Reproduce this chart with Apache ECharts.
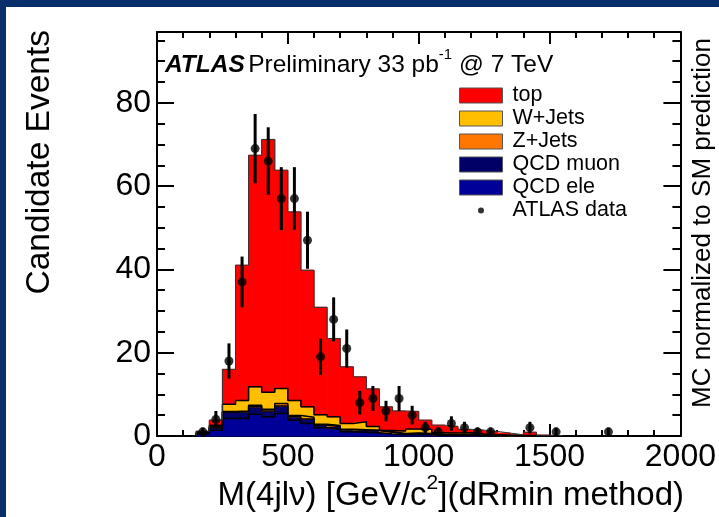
<!DOCTYPE html>
<html>
<head>
<meta charset="utf-8">
<script src="https://cdn.jsdelivr.net/npm/echarts@6/dist/echarts.min.js"></script>
<style>
  html, body { margin: 0; padding: 0; background: #ffffff; }
  #chart { width: 719px; height: 517px; }
</style>
</head>
<body>
<div id="chart"></div>
<script>
// Lower edges of the 50 GeV mass bins (GeV/c^2)
const binLow = [150, 200, 250, 300, 350, 400, 450, 500, 550, 600, 650, 700, 750, 800,
                850, 900, 950, 1000, 1050, 1100, 1150, 1200, 1250, 1300, 1350, 1400, 1450, 1500];
const binWidth = 50;

// Expected events per bin for each process (stacked bottom to top)
const qcdEle  = [0.5, 1.4, 4.2, 4.2, 5.2, 4.6, 5.4, 3.8, 3.0, 2.0, 1.6, 1.0, 0.9, 0.8,
                 0.5, 0.3, 0.4, 0.3, 0.2, 0.1, 0.1, 0.05, 0.05, 0, 0, 0, 0, 0];
const qcdMuon = [0.2, 0.6, 1.5, 1.6, 1.8, 1.4, 1.8, 0.8, 1.1, 0.6, 0.7, 0.5, 0.5, 0.5,
                 0.4, 0.2, 0.2, 0.2, 0.1, 0.1, 0.1, 0.05, 0.05, 0.05, 0, 0, 0, 0];
const zJets   = [0.05, 0.2, 0.2, 0.2, 0.4, 0.4, 0.6, 0.3, 0.4, 0.2, 0.2, 0.1, 0.1, 0.1,
                 0.1, 0.1, 0.1, 0.1, 0.1, 0.1, 0.1, 0.05, 0.02, 0.05, 0.05, 0, 0, 0];
const wJets   = [0.25, 0.4, 1.7, 2.5, 4.4, 4.1, 3.6, 3.6, 2.5, 2.3, 2.1, 1.4, 1.9, 0.9,
                 0.3, 0.6, 1.0, 1.0, 0.4, 0.4, 0.5, 0.35, 0.18, 0.1, 0.05, 0.1, 0, 0];
const topQuark = [0.15, 1.2, 8.4, 32.5, 55.6, 60.7, 52.4, 45.3, 32.8, 25.8, 18.8, 13.6, 10.8, 9.0,
                  5.7, 4.8, 4.2, 2.2, 1.8, 1.6, 0.8, 0.9, 0.8, 0.5, 0.2, 0.8, 0.2, 0.1];

// Observed data: bin centres, counts and statistical uncertainties
const dataMass   = [175, 225, 275, 325, 375, 425, 475, 525, 575, 625, 675, 725, 775, 825,
                    875, 925, 975, 1025, 1075, 1125, 1175, 1225, 1275, 1425, 1525, 1725];
const dataEvents = [1, 4, 18, 37, 69, 66, 57, 57, 47, 19, 28, 21, 8, 9,
                    6, 9, 5, 2, 1, 3, 2, 1, 1, 2, 1, 1];
const dataErr    = [1, 2, 4.24, 6.08, 8.31, 8.12, 7.55, 7.55, 6.86, 4.36, 5.29, 4.58, 2.83, 3,
                    2.45, 3, 2.24, 1.41, 1, 1.73, 1.41, 1, 1, 1.41, 1, 1];

// Axis ticks
const xTicks = { min: 0, max: 2000, interval: 500 };
const yTicks = { min: 0, max: 97, interval: 20 };

const FONT = "'Liberation Sans', Arial, Helvetica, sans-serif";

const layers = [
  { name: 'QCD ele',  values: qcdEle,   color: '#000099', edge: '#000000', edgeWidth: 1.5 },
  { name: 'QCD muon', values: qcdMuon,  color: '#000066', edge: '#000000', edgeWidth: 1.5 },
  { name: 'Z+Jets',   values: zJets,    color: '#ff7700', edge: '#000000', edgeWidth: 1.5 },
  { name: 'W+Jets',   values: wJets,    color: '#ffbf00', edge: '#000000', edgeWidth: 1.5 },
  { name: 'top',      values: topQuark, color: '#ff0000', edge: '#333333', edgeWidth: 1 }
];

function renderBin(params, api) {
  const p0 = api.coord([api.value(0), api.value(3)]);
  const p1 = api.coord([api.value(1), api.value(2)]);
  const c = api.visual('color');
  return {
    type: 'rect',
    shape: { x: p0[0], y: p0[1], width: p1[0] - p0[0], height: p1[1] - p0[1] },
    style: { fill: c, stroke: c, lineWidth: 1 }
  };
}

function renderErrorBar(params, api) {
  const x = api.value(0), y = api.value(1), e = api.value(2);
  const lo = api.coord([x, Math.max(0, y - e)]);
  const hi = api.coord([x, y + e]);
  return {
    type: 'line',
    shape: { x1: lo[0], y1: lo[1], x2: hi[0], y2: hi[1] },
    style: { stroke: '#000000', lineWidth: 3 }
  };
}

const series = [];
let base = binLow.map(() => 0);
layers.forEach(layer => {
  const rects = binLow.map((x, i) => [x, x + binWidth, base[i], base[i] + layer.values[i]]);
  const upper = rects.map(r => r[3]);
  series.push({
    type: 'custom', name: layer.name, renderItem: renderBin,
    data: rects.filter(r => r[3] > r[2]),
    encode: { x: [0, 1], y: [2, 3] }, itemStyle: { color: layer.color }, z: 2, silent: true
  });
  const outline = [[binLow[0], 0]]
    .concat(binLow.map((x, i) => [x, upper[i]]))
    .concat([[binLow[binLow.length - 1] + binWidth, 0]]);
  series.push({
    type: 'line', name: layer.name + ' edge', step: 'end', data: outline, symbol: 'none',
    lineStyle: { color: layer.edge, width: layer.edgeWidth }, z: 3, silent: true
  });
  base = upper;
});

series.push({
  type: 'custom', name: 'ATLAS data errors', renderItem: renderErrorBar,
  data: dataMass.map((m, i) => [m, dataEvents[i], dataErr[i]]),
  encode: { x: 0, y: 1 }, z: 4, silent: true
});
series.push({
  type: 'scatter', name: 'ATLAS data',
  data: dataMass.map((m, i) => [m, dataEvents[i]]),
  symbol: 'circle', symbolSize: 9, itemStyle: { color: '#000000' }, z: 5, silent: true
});

const plainNumber = v => String(v);

function xAxisDef(pos, showLabels) {
  return {
    type: 'value', position: pos, min: xTicks.min, max: xTicks.max, interval: xTicks.interval,
    axisLine: { show: true, onZero: false, lineStyle: { color: '#000', width: 2 } },
    axisTick: { show: true, inside: true, length: 12, lineStyle: { color: '#000', width: 2 } },
    minorTick: { show: true, splitNumber: 5, length: 6, lineStyle: { color: '#000', width: 2 } },
    splitLine: { show: false },
    axisLabel: { show: showLabels, color: '#000', fontFamily: FONT, fontSize: 32, margin: 5, formatter: plainNumber }
  };
}
function yAxisDef(pos, showLabels) {
  return {
    type: 'value', position: pos, min: yTicks.min, max: yTicks.max, interval: yTicks.interval,
    axisLine: { show: true, onZero: false, lineStyle: { color: '#000', width: 2 } },
    axisTick: { show: true, inside: true, length: 17, lineStyle: { color: '#000', width: 2 } },
    minorTick: { show: true, splitNumber: 4, length: 8, lineStyle: { color: '#000', width: 2 } },
    splitLine: { show: false },
    axisLabel: { show: showLabels, color: '#000', fontFamily: FONT, fontSize: 32, margin: 6,
                 showMaxLabel: false, formatter: plainNumber }
  };
}

const chart = echarts.init(document.getElementById('chart'), null, { renderer: 'canvas' });
chart.setOption({
  animation: false,
  backgroundColor: '#ffffff',
  grid: { left: 157, top: 32, width: 527, height: 404, containLabel: false },
  xAxis: [xAxisDef('bottom', true), xAxisDef('top', false)],
  yAxis: [yAxisDef('left', true), yAxisDef('right', false)],
  legend: {
    orient: 'vertical', left: 459, top: 84.5, padding: 0, itemWidth: 43, itemHeight: 15, itemGap: 1.0,
    selectedMode: false,
    textStyle: { fontFamily: FONT, fontSize: 21.5, color: '#000', padding: [0, 0, 0, 5] },
    data: [
      { name: 'top', icon: 'rect', itemStyle: { borderColor: '#555', borderWidth: 1 } },
      { name: 'W+Jets', icon: 'rect', itemStyle: { borderColor: '#555', borderWidth: 1 } },
      { name: 'Z+Jets', icon: 'rect', itemStyle: { borderColor: '#555', borderWidth: 1 } },
      { name: 'QCD muon', icon: 'rect', itemStyle: { borderColor: '#555', borderWidth: 1 } },
      { name: 'QCD ele', icon: 'rect', itemStyle: { borderColor: '#555', borderWidth: 1 } },
      { name: 'ATLAS data', icon: 'path://M0,0M43,15M18.5,7.5a3,3 0 1,0 6,0a3,3 0 1,0 -6,0z' }
    ]
  },
  graphic: [
    { type: 'rect', shape: { x: 0, y: 0, width: 719, height: 7 }, style: { fill: '#072f6a' }, silent: true },
    { type: 'rect', shape: { x: 0, y: 0, width: 6, height: 517 }, style: { fill: '#072f6a' }, silent: true },
    {
      type: 'text', x: 165, y: 65, silent: true,
      style: {
        text: '{b|ATLAS} {n|Preliminary 33 pb}{s|-1}{n| @ 7 TeV}',
        align: 'left', verticalAlign: 'middle',
        rich: {
          b: { fontFamily: FONT, fontSize: 24.5, fontWeight: 'bold', fontStyle: 'italic', fill: '#000', verticalAlign: 'middle' },
          n: { fontFamily: FONT, fontSize: 24.5, fill: '#000', verticalAlign: 'middle' },
          s: { fontFamily: FONT, fontSize: 15, fill: '#000', verticalAlign: 'middle', padding: [0, 0, 20, 0] }
        }
      }
    },
    {
      type: 'text', x: 684, y: 496, silent: true,
      style: {
        text: '{n|M(4jl\u03bd) [GeV/c}{s|2}{n|](dRmin method)}',
        align: 'right', verticalAlign: 'middle',
        rich: {
          n: { fontFamily: FONT, fontSize: 33, fill: '#000', verticalAlign: 'middle' },
          s: { fontFamily: FONT, fontSize: 21, fill: '#000', verticalAlign: 'middle', padding: [0, 0, 26, 0] }
        }
      }
    },
    {
      type: 'text', x: 40, y: 30, rotation: Math.PI / 2, silent: true,
      style: { text: 'Candidate Events', fontFamily: FONT, fontSize: 33.5, fill: '#000', align: 'right', verticalAlign: 'middle' }
    },
    {
      type: 'text', x: 703, y: 38, rotation: Math.PI / 2, silent: true,
      style: { text: 'MC normalized to SM prediction', fontFamily: FONT, fontSize: 26, fill: '#000', align: 'right', verticalAlign: 'middle' }
    }
  ],
  series: series
});
</script>
</body>
</html>
